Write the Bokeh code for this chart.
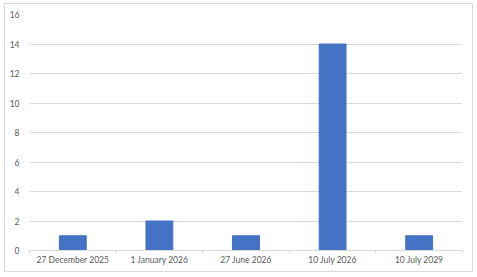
from bokeh.plotting import figure
from bokeh.models import FixedTicker, ColumnDataSource, Range1d
from bokeh.embed import file_html
from bokeh.resources import INLINE

categories = ["27 December 2025", "1 January 2026", "27 June 2026", "10 July 2026", "10 July 2029"]
counts = [1, 2, 1, 14, 1]
y_ticks = [0, 2, 4, 6, 8, 10, 12, 14, 16]

xs = [i + 0.5 for i in range(len(categories))]
src = ColumnDataSource(dict(x=xs, top=counts))

p = figure(width=469, height=269, output_backend="svg", toolbar_location=None,
           x_range=Range1d(0, len(categories)), y_range=Range1d(0, 16),
           min_border_left=24, min_border_right=12, min_border_top=10, min_border_bottom=23,
           margin=(3, 0, 0, 4),
           styles={"border": "1px solid #d9d9d9", "box-sizing": "border-box"})
p.vbar(x="x", top="top", width=0.31, source=src, color="#4472C4")

p.outline_line_color = None
p.background_fill_color = "white"
p.border_fill_color = "white"

font = "Lato"
lab_color = "#595959"

p.xaxis.ticker = FixedTicker(ticks=xs, minor_ticks=list(range(len(categories) + 1)))
p.xaxis.major_label_overrides = {x: c for x, c in zip(xs, categories)}
p.xaxis.major_tick_line_color = None
p.xaxis.minor_tick_line_color = "#d9d9d9"
p.xaxis.minor_tick_out = 3
p.xaxis.minor_tick_in = 0
p.xaxis.axis_line_color = "#d9d9d9"
p.xaxis.major_label_text_font = font
p.xaxis.major_label_text_font_size = "8.5px"
p.xaxis.major_label_text_color = lab_color
p.xaxis.major_label_standoff = -2

p.yaxis.ticker = FixedTicker(ticks=y_ticks)
p.yaxis.axis_line_color = None
p.yaxis.major_tick_line_color = None
p.yaxis.minor_tick_line_color = None
p.yaxis.major_label_text_font = font
p.yaxis.major_label_text_font_size = "8.5px"
p.yaxis.major_label_text_color = lab_color
p.yaxis.major_label_standoff = 4

p.xgrid.grid_line_color = None
p.ygrid.ticker = FixedTicker(ticks=y_ticks)
p.ygrid.grid_line_color = "#d9d9d9"

open("out.html", "w").write(file_html(p, INLINE))
